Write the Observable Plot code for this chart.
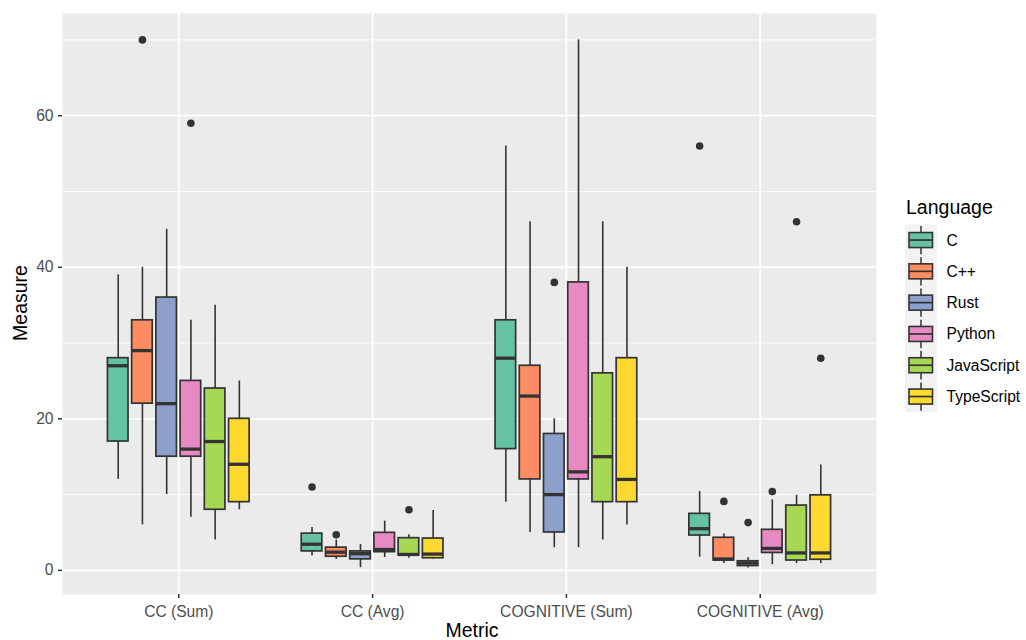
<!DOCTYPE html>
<html>
<head>
<meta charset="utf-8">
<script src="https://cdn.jsdelivr.net/npm/d3@7"></script>
<script src="https://cdn.jsdelivr.net/npm/@observablehq/plot@0.6"></script>
<style>
  body { margin: 0; background: #fff; font-family: "Liberation Sans", Arial, Helvetica, sans-serif; }
  #wrap { position: relative; width: 1026px; height: 640px; overflow: hidden; }
  #wrap > svg { position: absolute; left: 0; top: 0; }
  .axis-title { position: absolute; color: #000; font-size: 19.5px; white-space: nowrap; line-height: 1; }
</style>
</head>
<body>
<div id="wrap"></div>
<script>
// ---- data ----
const metrics = ["CC (Sum)", "CC (Avg)", "COGNITIVE (Sum)", "COGNITIVE (Avg)"];
const languages = ["C", "C++", "Rust", "Python", "JavaScript", "TypeScript"];
const palette = ["#66C2A5", "#FC8D62", "#8DA0CB", "#E78AC3", "#A6D854", "#FFD92F"];

// each array: metric-major, languages in the order above
const whiskerLow = [
  12, 6, 10, 7, 4, 8,
  1.9, 1.45, 0.35, 1.7, 1.6, 1.5,
  9, 5, 3, 3, 4, 6,
  1.75, 0.9, 0.3, 0.75, 0.9, 0.9
];
const q1 = [
  17, 22, 15, 15, 8, 9,
  2.5, 1.8, 1.45, 2.4, 1.95, 1.6,
  16, 12, 5, 12, 9, 9,
  4.6, 1.3, 0.57, 2.3, 1.3, 1.4
];
const median = [
  27, 29, 22, 16, 17, 14,
  3.45, 2.4, 2.2, 2.75, 2.1, 2.15,
  28, 23, 10, 13, 15, 12,
  5.5, 1.5, 0.96, 2.9, 2.3, 2.3
];
const q3 = [
  28, 33, 36, 25, 24, 20,
  4.85, 3.0, 2.5, 4.95, 4.25, 4.2,
  33, 27, 18, 38, 26, 28,
  7.46, 4.3, 1.2, 5.35, 8.55, 9.9
];
const whiskerHigh = [
  39, 40, 45, 33, 35, 25,
  5.65, 4.0, 3.4, 6.5, 4.7, 7.9,
  56, 46, 20, 70, 46, 40,
  10.4, 4.8, 1.67, 9.3, 9.9, 13.9
];
const outlierMetric = [
  "CC (Sum)", "CC (Sum)",
  "CC (Avg)", "CC (Avg)", "CC (Avg)",
  "COGNITIVE (Sum)",
  "COGNITIVE (Avg)", "COGNITIVE (Avg)", "COGNITIVE (Avg)", "COGNITIVE (Avg)", "COGNITIVE (Avg)", "COGNITIVE (Avg)"
];
const outlierLanguage = [
  "C++", "Python",
  "C", "C++", "JavaScript",
  "Rust",
  "C", "C++", "Rust", "Python", "JavaScript", "TypeScript"
];
const outlierValue = [
  70, 59,
  11, 4.7, 8,
  38,
  56, 9.1, 6.3, 10.4, 46, 28
];
const yMajor = [0, 20, 40, 60];
const yMinor = [10, 30, 50, 70];

// ---- dodge layout (ggplot position_dodge 0.75) ----
const dodgeWidth = 0.75;
const boxFraction = 0.85;
const step = dodgeWidth / languages.length;
const dodge = (m, l) => metrics.indexOf(m) + (languages.indexOf(l) - (languages.length - 1) / 2) * step;
const half = step * boxFraction / 2;

const boxes = [];
metrics.forEach((m, i) => languages.forEach((l, j) => {
  const k = i * languages.length + j;
  const xc = dodge(m, l);
  boxes.push({metric: m, language: l, xc, x1: xc - half, x2: xc + half,
              lo: whiskerLow[k], q1: q1[k], med: median[k], q3: q3[k], hi: whiskerHigh[k]});
}));
const outliers = outlierValue.map((v, i) => ({
  metric: outlierMetric[i], language: outlierLanguage[i], value: v,
  xc: dodge(outlierMetric[i], outlierLanguage[i])
}));
const metricIdx = metrics.map((m, i) => i);

const FONT = '"Liberation Sans", Arial, Helvetica, sans-serif';
const dark = "#333333";

const chart = Plot.plot({
  width: 1026,
  height: 640,
  marginLeft: 62,
  marginRight: 150,
  marginTop: 13,
  marginBottom: 46,
  style: {fontFamily: FONT, background: "transparent", overflow: "visible"},
  x: {domain: [-0.6, metrics.length - 1 + 0.6]},
  y: {domain: [-3.185, 73.485]},
  color: {domain: languages, range: palette},
  marks: [
    Plot.frame({fill: "#EBEBEB", stroke: null}),
    Plot.ruleY(yMinor, {stroke: "#fff", strokeWidth: 0.9}),
    Plot.ruleY(yMajor, {stroke: "#fff", strokeWidth: 1.8}),
    Plot.ruleX(metricIdx, {stroke: "#fff", strokeWidth: 1.8}),
    Plot.axisY({ticks: yMajor, tickSize: 4, tickPadding: 5, fontSize: 15.6, color: "#4D4D4D", stroke: dark, strokeWidth: 1.5, label: null}),
    Plot.axisX({ticks: metricIdx, tickFormat: i => metrics[i], tickSize: 4, tickPadding: 7, fontSize: 15.6, color: "#4D4D4D", stroke: dark, strokeWidth: 1.5, label: null}),
    Plot.ruleX(boxes, {x: "xc", y1: "lo", y2: "q1", stroke: dark, strokeWidth: 1.6}),
    Plot.ruleX(boxes, {x: "xc", y1: "q3", y2: "hi", stroke: dark, strokeWidth: 1.6}),
    Plot.rectY(boxes, {x1: "x1", x2: "x2", y1: "q1", y2: "q3", fill: "language", stroke: dark, strokeWidth: 1.7}),
    Plot.ruleY(boxes, {x1: "x1", x2: "x2", y: "med", stroke: dark, strokeWidth: 3.3}),
    Plot.dot(outliers, {x: "xc", y: "value", r: 3.8, fill: dark, stroke: null})
  ]
});

const wrap = document.getElementById("wrap");
wrap.appendChild(chart);

// axis titles
const yt = document.createElement("div");
yt.className = "axis-title";
yt.textContent = "Measure";
yt.style.left = "21px";
yt.style.top = "303px";
yt.style.transform = "translate(-50%, -50%) rotate(-90deg)";
wrap.appendChild(yt);

const xt = document.createElement("div");
xt.className = "axis-title";
xt.textContent = "Metric";
xt.style.left = "472px";
xt.style.top = "621px";
xt.style.transform = "translateX(-50%)";
wrap.appendChild(xt);

// legend
const keyH = 31.3, keyTop = 224.4, keyX = 905, keyW = 32;
const leg = d3.select(wrap).append("svg")
  .attr("width", 1026).attr("height", 640)
  .style("position", "absolute").style("left", "0px").style("top", "0px")
  .style("font-family", FONT);
leg.append("text").attr("x", 906).attr("y", 214)
  .attr("font-size", 19.5).attr("fill", "#000").text("Language");
languages.forEach((l, i) => {
  const top = keyTop + i * keyH, c = top + keyH / 2;
  leg.append("rect").attr("x", keyX).attr("y", top).attr("width", keyW).attr("height", keyH).attr("fill", "#F2F2F2");
  const cx = keyX + keyW / 2;
  leg.append("line").attr("x1", cx).attr("x2", cx).attr("y1", top + 1.5).attr("y2", c - 7.5).attr("stroke", dark).attr("stroke-width", 1.5);
  leg.append("line").attr("x1", cx).attr("x2", cx).attr("y1", c + 7.5).attr("y2", top + keyH - 1.5).attr("stroke", dark).attr("stroke-width", 1.5);
  leg.append("rect").attr("x", 909).attr("y", c - 7.5).attr("width", 23.5).attr("height", 15)
    .attr("fill", palette[i]).attr("stroke", dark).attr("stroke-width", 1.6);
  leg.append("line").attr("x1", 909).attr("x2", 932.5).attr("y1", c).attr("y2", c).attr("stroke", dark).attr("stroke-width", 1.7);
  leg.append("text").attr("x", 946.5).attr("y", c).attr("dy", "0.35em")
    .attr("font-size", 15.6).attr("fill", "#000").text(l);
});
</script>
</body>
</html>
